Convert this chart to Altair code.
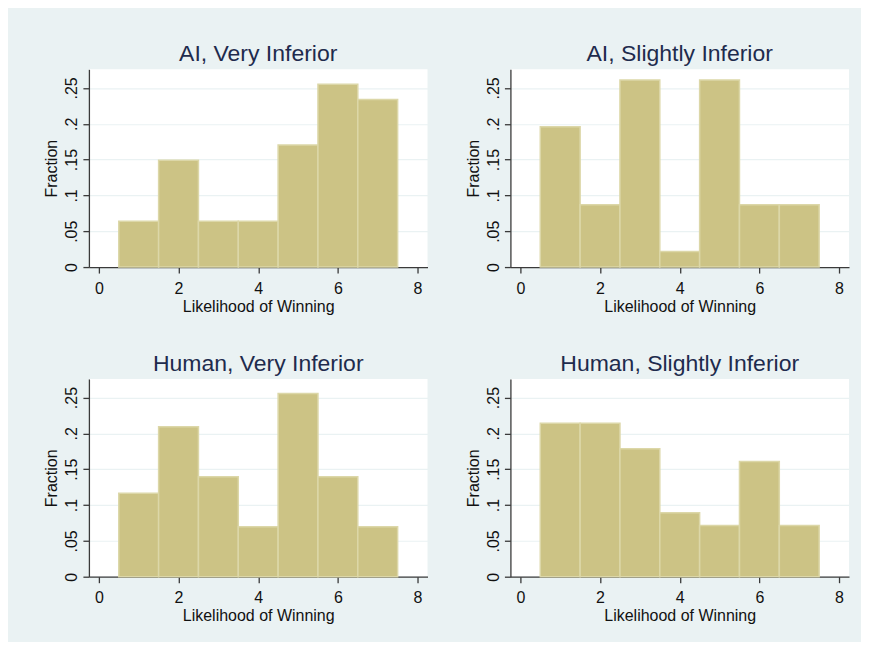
import altair as alt
import pandas as pd

# Histogram bins (Likelihood of Winning) and fractions per panel
likelihood = [1, 2, 3, 4, 5, 6, 7]
ai_very_inferior = [0.0638, 0.1489, 0.0638, 0.0638, 0.1702, 0.2553, 0.2340]
ai_slightly_inferior = [0.1957, 0.0870, 0.2609, 0.0217, 0.2609, 0.0870, 0.0870]
human_very_inferior = [0.1163, 0.2093, 0.1395, 0.0698, 0.2558, 0.1395, 0.0698]
human_slightly_inferior = [0.2143, 0.2143, 0.1786, 0.0893, 0.0714, 0.1607, 0.0714]

panel_titles = ["AI, Very Inferior", "AI, Slightly Inferior",
                "Human, Very Inferior", "Human, Slightly Inferior"]
x_ticks = [0, 2, 4, 6, 8]
y_ticks = [0, 0.05, 0.1, 0.15, 0.2, 0.25]

FONT = "Liberation Sans"
BAR = "#CCC385"
BAR_EDGE = "#DCD7A8"
TITLE_COLOR = "#1E2B4D"
TEXT = "#111111"
AXIS = "#3A3A3A"
BG = "#EAF2F3"


def panel(title, values):
    df = pd.DataFrame({
        "lo": [v - 0.5 for v in likelihood],
        "hi": [v + 0.5 for v in likelihood],
        "fraction": values,
        "base": [0.0] * len(values),
    })
    return alt.Chart(df).mark_bar(
        fill=BAR, stroke=BAR_EDGE, strokeWidth=1.5
    ).encode(
        x=alt.X("lo:Q",
                scale=alt.Scale(domain=[-0.25, 8.25], nice=False, zero=False),
                axis=alt.Axis(values=x_ticks, title="Likelihood of Winning",
                              grid=False, labelFlush=False,
                              tickSize=6, labelPadding=7, titlePadding=2,
                              labelBaseline="top", titleBaseline="top")),
        x2="hi:Q",
        y=alt.Y("fraction:Q",
                scale=alt.Scale(domain=[0, 0.276], nice=False),
                axis=alt.Axis(values=y_ticks, title="Fraction",
                              labelExpr="datum.value == 0 ? '0' : slice(format(datum.value, '.2~f'), 1)",
                              labelAngle=270, labelAlign="center", labelBaseline="bottom",
                              titleAngle=270, titleBaseline="bottom",
                              labelFlush=False, labelOverlap=False,
                              tickSize=6, labelPadding=3, titlePadding=4,
                              grid=True, gridColor=BG, gridWidth=1.2)),
        y2="base:Q",
    ).properties(
        width=339, height=198,
        title=alt.TitleParams(text=title, fontSize=23, font=FONT, color=TITLE_COLOR,
                              fontWeight="normal", anchor="middle", frame="group",
                              baseline="alphabetic", offset=-15),
    )


p1 = panel(panel_titles[0], ai_very_inferior)
p2 = panel(panel_titles[1], ai_slightly_inferior)
p3 = panel(panel_titles[2], human_very_inferior)
p4 = panel(panel_titles[3], human_slightly_inferior)

chart = alt.vconcat(
    alt.hconcat(p1, p2, spacing=38),
    alt.hconcat(p3, p4, spacing=38),
    spacing=39,
).properties(
    background=BG,
    padding={"left": 36, "top": 35, "right": 12, "bottom": 18},
).configure_view(
    fill="white", strokeWidth=0
).configure_axis(
    labelFont=FONT, titleFont=FONT, labelFontSize=16, titleFontSize=16,
    labelColor=TEXT, titleColor=TEXT, titleFontWeight="normal",
    domainColor=AXIS, tickColor=AXIS, domainWidth=1.3, tickWidth=1.3,
)

chart.save("out.html", embed_options={"renderer": "svg", "actions": False})
